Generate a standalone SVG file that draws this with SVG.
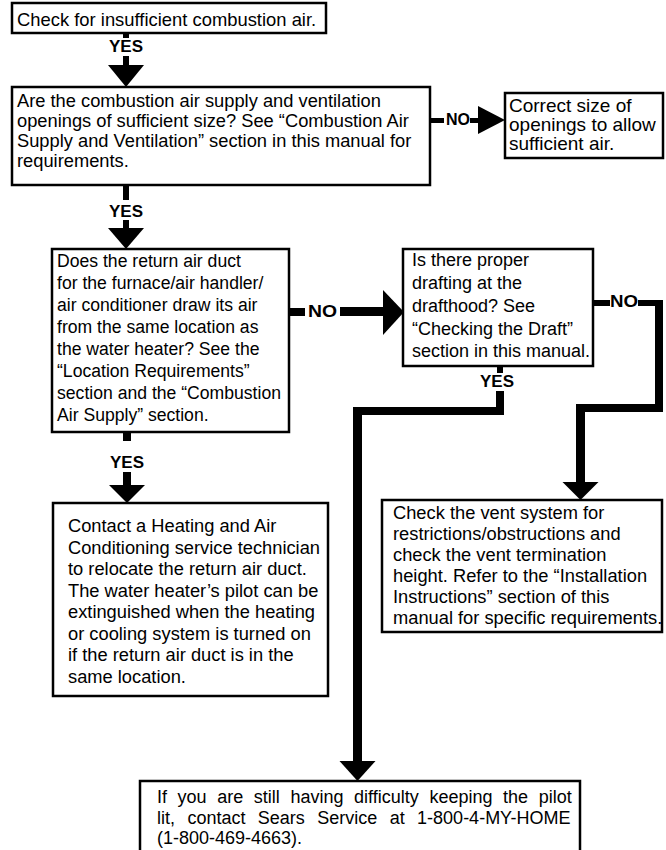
<svg xmlns="http://www.w3.org/2000/svg" width="666" height="850" viewBox="0 0 666 850">
<style>
.box{fill:#fff;stroke:#000;stroke-width:2.5}
.t{font-family:"Liberation Sans",Arial,sans-serif;font-size:18px;fill:#000}
.lbl{font-family:"Liberation Sans",Arial,sans-serif;font-size:16px;font-weight:bold;fill:#000}
.bar{fill:#000}
</style>
<rect width="666" height="850" fill="#fff"/>
<g id="connectors">
  <!-- box1 -> box2 -->
  <rect class="bar" x="123" y="33" width="6" height="5"/>
  <text class="lbl" x="126" y="52" text-anchor="middle" textLength="34" lengthAdjust="spacingAndGlyphs">YES</text>
  <rect class="bar" x="123" y="56" width="6" height="10"/>
  <polygon class="bar" points="108,65 144,65 126,87"/>
  <!-- box2 -> box3 NO -->
  <rect class="bar" x="430" y="118" width="14" height="5"/>
  <text class="lbl" x="446" y="125" textLength="24" lengthAdjust="spacingAndGlyphs">NO</text>
  <rect class="bar" x="470" y="118" width="10" height="5"/>
  <polygon class="bar" points="478,106 478,134 505,120"/>
  <!-- box2 -> box4 YES -->
  <rect class="bar" x="123" y="185" width="6" height="15"/>
  <text class="lbl" x="126" y="217" text-anchor="middle" textLength="34" lengthAdjust="spacingAndGlyphs">YES</text>
  <rect class="bar" x="123" y="220" width="6" height="9"/>
  <polygon class="bar" points="108,228 144,228 126,249"/>
  <!-- box4 -> box5 NO -->
  <rect class="bar" x="289" y="308" width="16" height="8"/>
  <text class="lbl" x="308" y="317" textLength="29" lengthAdjust="spacingAndGlyphs">NO</text>
  <rect class="bar" x="340" y="307" width="44" height="9"/>
  <polygon class="bar" points="383,290 383,335 404,312"/>
  <!-- box4 -> box8 YES -->
  <rect class="bar" x="123" y="432" width="8" height="9"/>
  <text class="lbl" x="127" y="468" text-anchor="middle" textLength="34" lengthAdjust="spacingAndGlyphs">YES</text>
  <rect class="bar" x="123" y="472" width="8" height="14"/>
  <polygon class="bar" points="109,485 145,485 127,503"/>
  <!-- box5 -> box6 NO -->
  <rect class="bar" x="593" y="300" width="17" height="6"/>
  <text class="lbl" x="610" y="307" textLength="28" lengthAdjust="spacingAndGlyphs">NO</text>
  <rect class="bar" x="638" y="300" width="25" height="6"/>
  <rect class="bar" x="655" y="300" width="8" height="112"/>
  <rect class="bar" x="576" y="404" width="87" height="8"/>
  <rect class="bar" x="576" y="404" width="9" height="79"/>
  <polygon class="bar" points="562.5,482 598.5,482 580.5,500"/>
  <!-- box5 -> box7 YES -->
  <rect class="bar" x="497" y="366" width="6" height="7"/>
  <text class="lbl" x="497" y="387" text-anchor="middle" textLength="34" lengthAdjust="spacingAndGlyphs">YES</text>
  <rect class="bar" x="496" y="391" width="8" height="24"/>
  <rect class="bar" x="353" y="407" width="151" height="8"/>
  <rect class="bar" x="353" y="407" width="9" height="355"/>
  <polygon class="bar" points="339.5,761 375.5,761 357.5,781"/>
</g>
<g id="n1">
  <rect class="box" x="12" y="3" width="314" height="30"/>
  <text class="t" x="17" y="26" style="font-size:18.4px">Check for insufficient combustion air.</text>
</g>
<g id="n2">
  <rect class="box" x="12" y="87" width="418" height="98"/>
  <text class="t" x="17" y="107" style="font-size:18.3px">Are the combustion air supply and ventilation</text>
  <text class="t" x="17" y="127" style="font-size:18.3px">openings of sufficient size? See “Combustion Air</text>
  <text class="t" x="17" y="147" style="font-size:18.3px">Supply and Ventilation” section in this manual for</text>
  <text class="t" x="17" y="167" style="font-size:18.3px">requirements.</text>
</g>
<g id="n3">
  <rect class="box" x="505" y="93" width="158" height="65"/>
  <text class="t" x="509" y="112" style="font-size:19px">Correct size of</text>
  <text class="t" x="509" y="131" style="font-size:19px">openings to allow</text>
  <text class="t" x="509" y="150" style="font-size:19px">sufficient air.</text>
</g>
<g id="n4">
  <rect class="box" x="52" y="249" width="237" height="183"/>
  <text class="t" x="57" y="267" style="font-size:17.6px">Does the return air duct</text>
  <text class="t" x="57" y="289" style="font-size:17.6px">for the furnace/air handler/</text>
  <text class="t" x="57" y="311" style="font-size:17.6px">air conditioner draw its air</text>
  <text class="t" x="57" y="333" style="font-size:17.6px">from the same location as</text>
  <text class="t" x="57" y="355" style="font-size:17.6px">the water heater? See the</text>
  <text class="t" x="57" y="377" style="font-size:17.6px">“Location Requirements”</text>
  <text class="t" x="57" y="399" style="font-size:17.6px">section and the “Combustion</text>
  <text class="t" x="57" y="421" style="font-size:17.6px">Air Supply” section.</text>
</g>
<g id="n5">
  <rect class="box" x="403" y="249" width="190" height="117"/>
  <text class="t" x="412" y="266">Is there proper</text>
  <text class="t" x="412" y="289">drafting at the</text>
  <text class="t" x="412" y="312">drafthood?  See</text>
  <text class="t" x="412" y="335">“Checking the Draft”</text>
  <text class="t" x="412" y="357">section in this manual.</text>
</g>
<g id="n6">
  <rect class="box" x="382" y="500" width="280" height="132"/>
  <text class="t" x="393" y="519" style="font-size:18.3px">Check the vent system for</text>
  <text class="t" x="393" y="540" style="font-size:18.3px">restrictions/obstructions and</text>
  <text class="t" x="393" y="561" style="font-size:18.3px">check the vent termination</text>
  <text class="t" x="393" y="582" style="font-size:18.3px">height. Refer to the “Installation</text>
  <text class="t" x="393" y="603" style="font-size:18.3px">Instructions” section of this</text>
  <text class="t" x="393" y="624" style="font-size:18.3px">manual for specific requirements.</text>
</g>
<g id="n8">
  <rect class="box" x="53" y="503" width="275" height="193"/>
  <text class="t" x="68" y="532" style="font-size:18.3px">Contact a Heating and Air</text>
  <text class="t" x="68" y="553.5" style="font-size:18.3px">Conditioning service technician</text>
  <text class="t" x="68" y="575" style="font-size:18.3px">to relocate the return air duct.</text>
  <text class="t" x="68" y="596.5" style="font-size:18.3px">The water heater’s pilot can be</text>
  <text class="t" x="68" y="618" style="font-size:18.3px">extinguished when the heating</text>
  <text class="t" x="68" y="639.5" style="font-size:18.3px">or cooling system is turned on</text>
  <text class="t" x="68" y="661" style="font-size:18.3px">if the return air duct is in the</text>
  <text class="t" x="68" y="683" style="font-size:18.3px">same location.</text>
</g>
<g id="n7">
  <rect class="box" x="140" y="781" width="440" height="75"/>
  <text class="t" x="157" y="803" word-spacing="5.6">If you are still having difficulty keeping the pilot</text>
  <text class="t" x="157" y="824" word-spacing="7.4">lit, contact Sears Service at 1-800-4-MY-HOME</text>
  <text class="t" x="157" y="844">(1-800-469-4663).</text>
</g>
</svg>
